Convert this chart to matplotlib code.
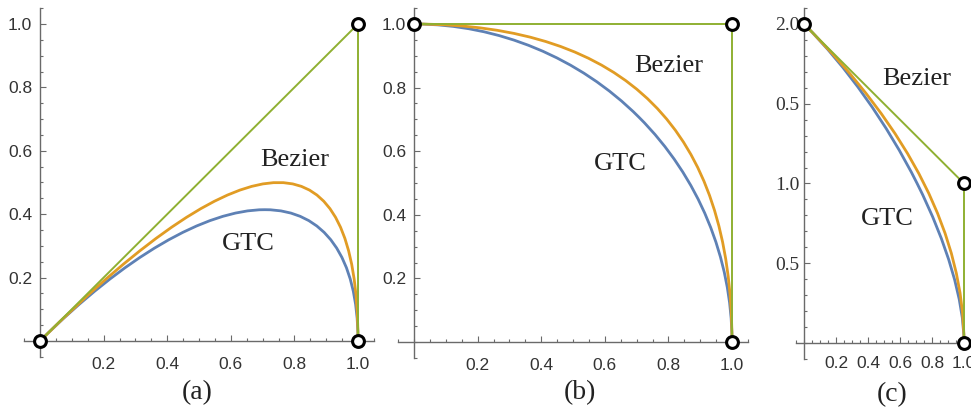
import matplotlib
matplotlib.use("Agg")
import matplotlib.pyplot as plt
from matplotlib.path import Path
from matplotlib.patches import PathPatch
from matplotlib.transforms import Affine2D
from matplotlib.ticker import FixedLocator, FixedFormatter, MultipleLocator

# control points (P0, P1, P2) of the three panels
ctrl_a = [(0, 0), (1, 1), (1, 0)]
ctrl_b = [(0, 1), (1, 1), (1, 0)]
ctrl_c = [(0, 2), (1, 1), (1, 0)]

xticks = [0.2, 0.4, 0.6, 0.8, 1.0]
xtick_labels = ["0.2", "0.4", "0.6", "0.8", "1.0"]
yticks_ab = [0.2, 0.4, 0.6, 0.8, 1.0]
ytick_labels_ab = ["0.2", "0.4", "0.6", "0.8", "1.0"]
yticks_c = [0.5, 1.0, 1.5, 2.0]
ytick_labels_c = ["0.5", "1.0", "0.5", "2.0"]   # as printed in the original

panel_labels = ["(a)", "(b)", "(c)"]
# text positions (data coords) for the curve names
bezier_pos = [(0.80, 0.57), (0.80, 0.868), (0.706, 1.655)]
gtc_pos = [(0.654, 0.306), (0.65, 0.56), (0.52, 0.78)]

BLUE = "#5e81b5"
ORANGE = "#e19c24"
GREEN = "#8fb032"
AXC = "#6a6a6a"
SANS = "Liberation Sans"
SERIF = "Liberation Serif"

W, H = 971, 415
fig = plt.figure(figsize=(W / 100, H / 100), dpi=100)


def add_axes_px(x0px, x1px, y0px, ypx, yval, xlim, ylim):
    # x0px/x1px: pixel of x=0 / x=1, y0px: pixel of y=0, ypx: pixel of y=yval
    sx = x1px - x0px
    sy = (y0px - ypx) / yval
    left = x0px + xlim[0] * sx
    right = x0px + xlim[1] * sx
    top = y0px - ylim[1] * sy
    bottom = y0px - ylim[0] * sy
    ax = fig.add_axes([left / W, 1 - bottom / H, (right - left) / W, (bottom - top) / H])
    ax.set_xlim(*xlim)
    ax.set_ylim(*ylim)
    return ax


def draw_panel(ax, ctrl, bpos, gpos):
    p0, p1, p2 = ctrl
    # GTC: affine image of the unit quarter circle
    ox, oy = p0[0] - p1[0] + p2[0], p0[1] - p1[1] + p2[1]
    ux, uy = p1[0] - p0[0], p1[1] - p0[1]
    vx, vy = p1[0] - p2[0], p1[1] - p2[1]
    tr = Affine2D([[vx, ux, ox], [vy, uy, oy], [0, 0, 1]])
    gtc = PathPatch(Path.arc(0, 90), transform=tr + ax.transData, fill=False,
                    ec=BLUE, lw=2.0, zorder=2, capstyle="butt")
    ax.add_patch(gtc)
    # quadratic Bezier
    bez = PathPatch(Path(ctrl, [Path.MOVETO, Path.CURVE3, Path.CURVE3]), fill=False,
                    ec=ORANGE, lw=2.0, zorder=3, capstyle="butt")
    ax.add_patch(bez)
    xs = [p[0] for p in ctrl]
    ys = [p[1] for p in ctrl]
    ax.plot(xs, ys, color=GREEN, lw=1.4, zorder=4)
    ax.plot(xs, ys, "o", mfc="white", mec="black", ms=8.5, mew=2.2, zorder=6, clip_on=False)

    ax.text(*bpos, "Bezier", family=SERIF, fontsize=19, color="#222222", ha="center", va="center")
    ax.text(*gpos, "GTC", family=SERIF, fontsize=19, color="#222222", ha="center", va="center")

    for s in ["top", "right"]:
        ax.spines[s].set_visible(False)
    for s in ["left", "bottom"]:
        ax.spines[s].set_position(("data", 0))
        ax.spines[s].set_color(AXC)
        ax.spines[s].set_linewidth(1.0)
    ax.patch.set_visible(False)
    ax.tick_params(which="both", direction="in", color=AXC, width=0.8)
    ax.tick_params(which="major", length=4)
    ax.tick_params(which="minor", length=2.5)


ax_a = add_axes_px(40, 358, 341, 24, 1.0, (-0.05, 1.05), (-0.05, 1.05))
ax_b = add_axes_px(414, 732, 342, 24, 1.0, (-0.05, 1.05), (-0.05, 1.05))
ax_c = add_axes_px(804, 964, 343, 24, 2.0, (-0.05, 1.05), (-0.1, 2.1))

for ax, ctrl, bp, gp in zip([ax_a, ax_b, ax_c], [ctrl_a, ctrl_b, ctrl_c], bezier_pos, gtc_pos):
    draw_panel(ax, ctrl, bp, gp)
    ax.xaxis.set_major_locator(FixedLocator(xticks))
    ax.xaxis.set_major_formatter(FixedFormatter(xtick_labels))
    ax.xaxis.set_minor_locator(MultipleLocator(0.05))
    for lab in ax.get_xticklabels():
        lab.set_family(SANS)

for ax in [ax_a, ax_b]:
    ax.yaxis.set_major_locator(FixedLocator(yticks_ab))
    ax.yaxis.set_major_formatter(FixedFormatter(ytick_labels_ab))
    ax.yaxis.set_minor_locator(MultipleLocator(0.05))
    ax.tick_params(axis="x", labelsize=12.5, labelcolor="#333333", pad=11.5)
    ax.tick_params(axis="y", labelsize=12.5, labelcolor="#333333", pad=5.5)
    for lab in ax.get_xticklabels() + ax.get_yticklabels():
        lab.set_family(SANS)

ax_c.yaxis.set_major_locator(FixedLocator(yticks_c))
ax_c.yaxis.set_major_formatter(FixedFormatter(ytick_labels_c))
ax_c.yaxis.set_minor_locator(MultipleLocator(0.1))
ax_c.tick_params(axis="x", labelsize=12.5, labelcolor="#333333", pad=9.5)
ax_c.tick_params(axis="y", labelsize=14, labelcolor="#333333", pad=3)
for lab in ax_c.get_xticklabels():
    lab.set_family(SANS)
for lab in ax_c.get_yticklabels():
    lab.set_family(SERIF)

for lab, (px, py) in zip(panel_labels, [(197, 393), (580, 393), (892, 395)]):
    fig.text(px / W, 1 - py / H, lab, family=SERIF, fontsize=20, color="#222222",
             ha="center", va="center")

fig.savefig("out.png", dpi=100)
